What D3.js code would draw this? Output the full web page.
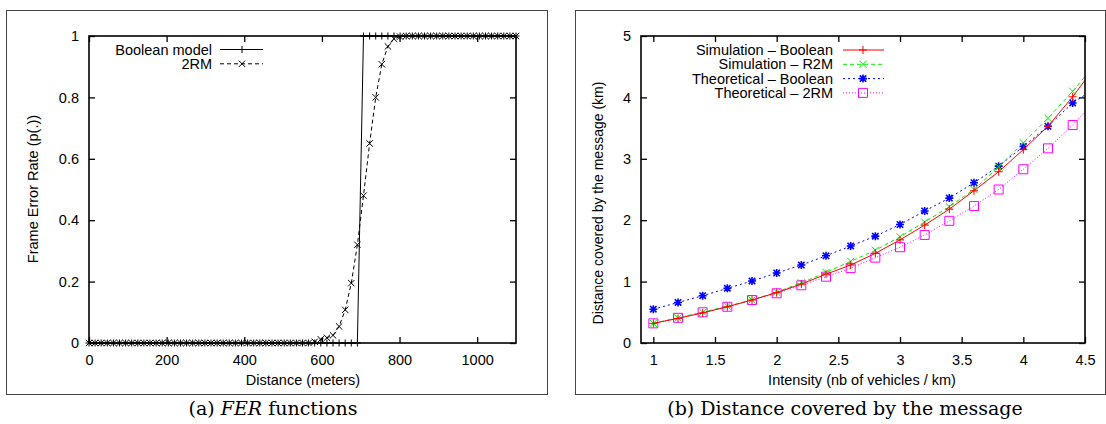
<!DOCTYPE html>
<html><head><meta charset="utf-8">
<script src="https://cdnjs.cloudflare.com/ajax/libs/d3/7.8.5/d3.min.js"></script>
<style>body{margin:0;background:#fff}svg{display:block}</style>
</head><body><svg id="c" width="1106" height="424"></svg>
<script>
// ---------- Data: (a) FER functions ----------
const ferDistance = [0,15.7,31.4,47.1,62.9,78.6,94.3,110,125.7,141.4,157.1,172.9,188.6,204.3,220,235.7,251.4,267.1,282.9,298.6,314.3,330,345.7,361.4,377.1,392.9,408.6,424.3,440,455.7,471.4,487.1,502.9,518.6,534.3,550,565.7,581.4,597.1,612.9,628.6,644.3,660,675.7,691.4,707.1,722.9,738.6,754.3,770,785.7,801.4,817.1,832.9,848.6,864.3,880,895.7,911.4,927.1,942.9,958.6,974.3,990,1005.7,1021.4,1037.1,1052.9,1068.6,1084.3,1100];
const ferBoolean = [0,0,0,0,0,0,0,0,0,0,0,0,0,0,0,0,0,0,0,0,0,0,0,0,0,0,0,0,0,0,0,0,0,0,0,0,0,0,0,0,0,0,0,0,0,1,1,1,1,1,1,1,1,1,1,1,1,1,1,1,1,1,1,1,1,1,1,1,1,1,1];
const fer2RM = [0,0,0,0,0,0,0,0,0,0,0,0,0,0,0,0,0,0,0,0,0,0,0,0,0,0,0,0,0,0,0,0,0,0,0,0,0,0.004,0.012,0.017,0.025,0.054,0.108,0.195,0.32,0.48,0.65,0.80,0.908,0.966,0.991,0.998,1,1,1,1,1,1,1,1,1,1,1,1,1,1,1,1,1,1,1];
const ferXTicks = [0,200,400,600,800,1000];
const ferYTicks = [0,0.2,0.4,0.6,0.8,1];
const ferSeriesNames = ["Boolean model","2RM"];

// ---------- Data: (b) Distance covered ----------
const intensity = [1.0,1.2,1.4,1.6,1.8,2.0,2.2,2.4,2.6,2.8,3.0,3.2,3.4,3.6,3.8,4.0,4.2,4.4,4.6];
const simBoolean = [0.32,0.40,0.49,0.59,0.70,0.82,0.96,1.12,1.27,1.46,1.68,1.92,2.18,2.48,2.79,3.15,3.53,4.01,4.55];
const simR2M = [0.32,0.41,0.50,0.60,0.70,0.83,0.98,1.15,1.33,1.51,1.73,1.97,2.22,2.50,2.87,3.26,3.66,4.10,4.58];
const theoBoolean = [0.55,0.66,0.77,0.89,1.01,1.14,1.27,1.42,1.58,1.74,1.93,2.15,2.36,2.61,2.88,3.20,3.53,3.91,4.17];
const theo2RM = [0.32,0.41,0.50,0.59,0.70,0.81,0.94,1.08,1.22,1.39,1.56,1.76,1.99,2.23,2.50,2.83,3.17,3.55,3.98];
const distXTicks = [1,1.5,2,2.5,3,3.5,4,4.5];
const distYTicks = [0,1,2,3,4,5];
const distSeriesNames = ["Simulation \u2013 Boolean","Simulation \u2013 R2M","Theoretical \u2013 Boolean","Theoretical \u2013 2RM"];

const svg = d3.select("#c");
const SANS = "'Liberation Sans', Arial, sans-serif";
const SERIF = "'DejaVu Serif', serif";
const FS = 14.5;

function marker(g, type, x, y, color, s) {
  const p = d3.path();
  if (type === "plus" || type === "star") {
    p.moveTo(x - s, y); p.lineTo(x + s, y);
    p.moveTo(x, y - s); p.lineTo(x, y + s);
  }
  if (type === "cross" || type === "star") {
    const k = s * 0.8;
    p.moveTo(x - k, y - k); p.lineTo(x + k, y + k);
    p.moveTo(x - k, y + k); p.lineTo(x + k, y - k);
  }
  if (type === "square") {
    p.rect(x - s, y - s, 2 * s, 2 * s);
  }
  g.append("path").attr("d", p.toString()).attr("fill", "none")
    .attr("stroke", color).attr("stroke-width", type === "star" ? 1.6 : 1);
}

function frame(x0, y0, x1, y1) {
  svg.append("rect").attr("x", x0 + 0.5).attr("y", y0 + 0.5)
    .attr("width", x1 - x0).attr("height", y1 - y0)
    .attr("fill", "none").attr("stroke", "#444").attr("stroke-width", 1);
}

function axesBox(x, y, xTicks, yTicks, xFmt, yFmt) {
  const [l, r] = x.range(), [b, t] = y.range();
  const g = svg.append("g");
  const tl = 6;
  const ax = g.append("g").attr("transform", `translate(0,${b})`)
    .call(d3.axisBottom(x).tickValues(xTicks).tickSize(-tl).tickPadding(12).tickFormat(xFmt));
  const ay = g.append("g").attr("transform", `translate(${l},0)`)
    .call(d3.axisLeft(y).tickValues(yTicks).tickSize(-tl).tickPadding(10).tickFormat(yFmt));
  const axTop = g.append("g").attr("transform", `translate(0,${t})`)
    .call(d3.axisTop(x).tickValues(xTicks).tickSize(-tl).tickFormat(""));
  const ayR = g.append("g").attr("transform", `translate(${r},0)`)
    .call(d3.axisRight(y).tickValues(yTicks).tickSize(-tl).tickFormat(""));
  [ax, ay, axTop, ayR].forEach(a => {
    a.select(".domain").remove();
    a.selectAll(".tick line").attr("stroke", "#000").attr("stroke-width", 1.3);
    a.selectAll("text").attr("font-family", SANS).attr("font-size", FS).attr("fill", "#000");
  });
  g.append("rect").attr("x", l).attr("y", t).attr("width", r - l).attr("height", b - t)
    .attr("fill", "none").attr("stroke", "#000").attr("stroke-width", 1.6);
  return g;
}

// ================= Panel (a) =================
frame(6, 10, 547, 394);
const xa = d3.scaleLinear().domain([0, 1100]).range([89, 516]);
const ya = d3.scaleLinear().domain([0, 1]).range([343, 36]);
const ptsA = ferDistance.map((d, i) => ({x: d, b: ferBoolean[i], r: fer2RM[i]}));

const gA = svg.append("g");
gA.append("path").datum(ptsA)
  .attr("d", d3.line().x(d => xa(d.x)).y(d => ya(d.b)))
  .attr("fill", "none").attr("stroke", "#000").attr("stroke-width", 1);
gA.append("path").datum(ptsA)
  .attr("d", d3.line().x(d => xa(d.x)).y(d => ya(d.r)))
  .attr("fill", "none").attr("stroke", "#000").attr("stroke-width", 1).attr("stroke-dasharray", "4,3");
ptsA.forEach(d => marker(gA, "plus", xa(d.x), ya(d.b), "#000", 3.5));
ptsA.forEach(d => marker(gA, "cross", xa(d.x), ya(d.r), "#000", 4));

axesBox(xa, ya, ferXTicks, ferYTicks, d3.format("d"), d => d3.format("~g")(d));

const legA = svg.append("g").attr("font-family", SANS).attr("font-size", FS);
const legAtypes = [{t: "plus", dash: null}, {t: "cross", dash: "4,3"}];
ferSeriesNames.forEach((n, i) => {
  const yy = 49.5 + i * 14.3;
  legA.append("text").attr("x", 212).attr("y", yy).attr("dy", "0.35em")
    .attr("text-anchor", "end").text(n);
  legA.append("line").attr("x1", 220).attr("x2", 263).attr("y1", yy).attr("y2", yy)
    .attr("stroke", "#000").attr("stroke-width", 1).attr("stroke-dasharray", legAtypes[i].dash);
  marker(legA, legAtypes[i].t, 242, yy, "#000", legAtypes[i].t === "plus" ? 3.5 : 4);
});

svg.append("text").attr("transform", "translate(38,189) rotate(-90)")
  .attr("text-anchor", "middle").attr("font-family", SANS).attr("font-size", 14.5)
  .text("Frame Error Rate (p(.))");
svg.append("text").attr("x", 303).attr("y", 385)
  .attr("text-anchor", "middle").attr("font-family", SANS).attr("font-size", FS)
  .text("Distance (meters)");
const capA = svg.append("text").attr("x", 273).attr("y", 415).attr("text-anchor", "middle")
  .attr("font-family", SERIF).attr("font-size", 19);
capA.append("tspan").text("(a)  ");
capA.append("tspan").attr("font-style", "italic").text("FER");
capA.append("tspan").text(" functions");

// ================= Panel (b) =================
frame(575, 10, 1105, 394);
const xb = d3.scaleLinear().domain([0.9, 4.5]).range([641, 1085]);
const yb = d3.scaleLinear().domain([0, 5]).range([343, 36]);
svg.append("defs").append("clipPath").attr("id", "clipB")
  .append("rect").attr("x", 641).attr("y", 36).attr("width", 444).attr("height", 307);

const seriesB = [
  {name: distSeriesNames[0], vals: simBoolean, color: "#ff0000", dash: null, m: "plus", s: 4},
  {name: distSeriesNames[1], vals: simR2M, color: "#00ee00", dash: "4,3", m: "cross", s: 4.5},
  {name: distSeriesNames[2], vals: theoBoolean, color: "#0000ff", dash: "2,3", m: "star", s: 4},
  {name: distSeriesNames[3], vals: theo2RM, color: "#ff00ff", dash: "1,2", m: "square", s: 4.5}
];
const gB = svg.append("g").attr("clip-path", "url(#clipB)");
seriesB.slice().reverse().forEach(s => {
  const pts = intensity.map((x, i) => ({x, v: s.vals[i]}));
  gB.append("path").datum(pts)
    .attr("d", d3.line().x(d => xb(d.x)).y(d => yb(d.v)))
    .attr("fill", "none").attr("stroke", s.color).attr("stroke-width", 1)
    .attr("stroke-dasharray", s.dash);
  pts.forEach(d => { if (d.x <= 4.5) marker(gB, s.m, xb(d.x), yb(d.v), s.color, s.s); });
});

axesBox(xb, yb, distXTicks, distYTicks, d => d3.format("~g")(d), d3.format("d"));

const legB = svg.append("g").attr("font-family", SANS).attr("font-size", FS);
seriesB.forEach((s, i) => {
  const yy = 50 + i * 14.3;
  legB.append("text").attr("x", 833).attr("y", yy).attr("dy", "0.35em")
    .attr("text-anchor", "end").text(s.name);
  legB.append("line").attr("x1", 843).attr("x2", 884).attr("y1", yy).attr("y2", yy)
    .attr("stroke", s.color).attr("stroke-width", 1).attr("stroke-dasharray", s.dash);
  marker(legB, s.m, 863, yy, s.color, s.s);
});

svg.append("text").attr("transform", "translate(603,203) rotate(-90)")
  .attr("text-anchor", "middle").attr("font-family", SANS).attr("font-size", 14)
  .text("Distance covered by the message (km)");
svg.append("text").attr("x", 862).attr("y", 385)
  .attr("text-anchor", "middle").attr("font-family", SANS).attr("font-size", FS)
  .text("Intensity (nb of vehicles / km)");
svg.append("text").attr("x", 845).attr("y", 415).attr("text-anchor", "middle")
  .attr("font-family", SERIF).attr("font-size", 19)
  .text("(b)  Distance covered by the message");
</script></body></html>
